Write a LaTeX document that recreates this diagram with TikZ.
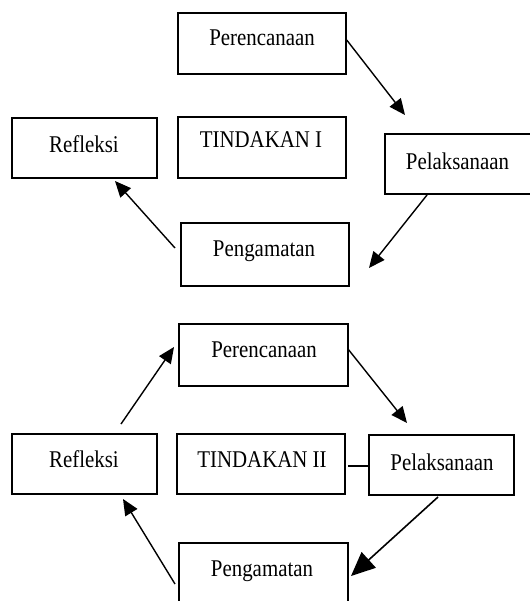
\documentclass[tikz,border=0pt]{standalone}
\usepackage{fontspec}
\setmainfont{Liberation Serif}[FakeStretch=0.87]
\usetikzlibrary{arrows.meta}
\begin{document}
\begin{tikzpicture}[x=1pt,y=-1pt,
  box/.style={draw, line width=1.4pt, rectangle, inner sep=0pt},
  lbl/.style={inner sep=0pt, anchor=base, font=\fontsize{24}{28}\selectfont},
  arr/.style={line width=1.4pt, -{Triangle[length=16pt,width=14pt]}},
  bigarr/.style={line width=1.6pt, -{Triangle[length=24pt,width=21pt]}}]
\useasboundingbox (0,0) rectangle (529,601);
% ---------- Tindakan I ----------
\node[box, minimum width=168pt, minimum height=61pt] (p1) at (262,43.5) {};
\node[box, minimum width=145pt, minimum height=60pt] (r1) at (84.5,148) {};
\node[box, minimum width=168pt, minimum height=61pt] (t1) at (262,147.5) {};
\node[box, minimum width=170pt, minimum height=60pt] (l1) at (470,164) {};
\node[box, minimum width=168pt, minimum height=63pt] (g1) at (265,254.5) {};
\node[lbl] (p1t) at (262,46) {Perencanaan};
\node[lbl] (r1t) at (84,153) {Refleksi};
\node[lbl] (t1t) at (261,148) {TINDAKAN I};
\node[lbl] (l1t) at (457.5,170) {Pelaksanaan};
\node[lbl] (g1t) at (264,256.5) {Pengamatan};
\coordinate (a1e) at (405,115);
\coordinate (a2s) at (427,195);
\coordinate (a2e) at (369,268);
\coordinate (a3s) at (175,248);
\coordinate (a3e) at (115,181);
\draw[arr] (p1.east |- 0,40) -- (a1e);
\draw[arr] (a2s) -- (a2e);
\draw[arr] (a3s) -- (a3e);
% ---------- Tindakan II ----------
\node[box, minimum width=169pt, minimum height=62pt] (p2) at (263.5,355) {};
\node[box, minimum width=145pt, minimum height=60pt] (r2) at (84.5,464) {};
\node[box, minimum width=168pt, minimum height=60pt] (t2) at (261,464) {};
\node[box, minimum width=145pt, minimum height=60pt] (l2) at (441.5,465) {};
\node[box, minimum width=169pt, minimum height=80pt] (g2) at (263.5,583) {};
\node[lbl] (p2t) at (264,357.3) {Perencanaan};
\node[lbl] (r2t) at (84,467) {Refleksi};
\node[lbl] (t2t) at (262,467) {TINDAKAN II};
\node[lbl] (l2t) at (442,470) {Pelaksanaan};
\node[lbl] (g2t) at (262,576.5) {Pengamatan};
\coordinate (b1s) at (121,424);
\coordinate (b1e) at (174,347);
\coordinate (b2s) at (348,349);
\coordinate (b2e) at (407,423);
\coordinate (b3s) at (438,497);
\coordinate (b3e) at (351,576);
\coordinate (b4s) at (175,584);
\coordinate (b4e) at (123,499);
\coordinate (ls) at (348,466);
\draw[arr] (b1s) -- (b1e);
\draw[arr] (b2s) -- (b2e);
\draw[bigarr] (b3s) -- (b3e);
\draw[arr] (b4s) -- (b4e);
\draw[line width=1.4pt] (ls) -- (l2.west |- ls);
\end{tikzpicture}
\end{document}
